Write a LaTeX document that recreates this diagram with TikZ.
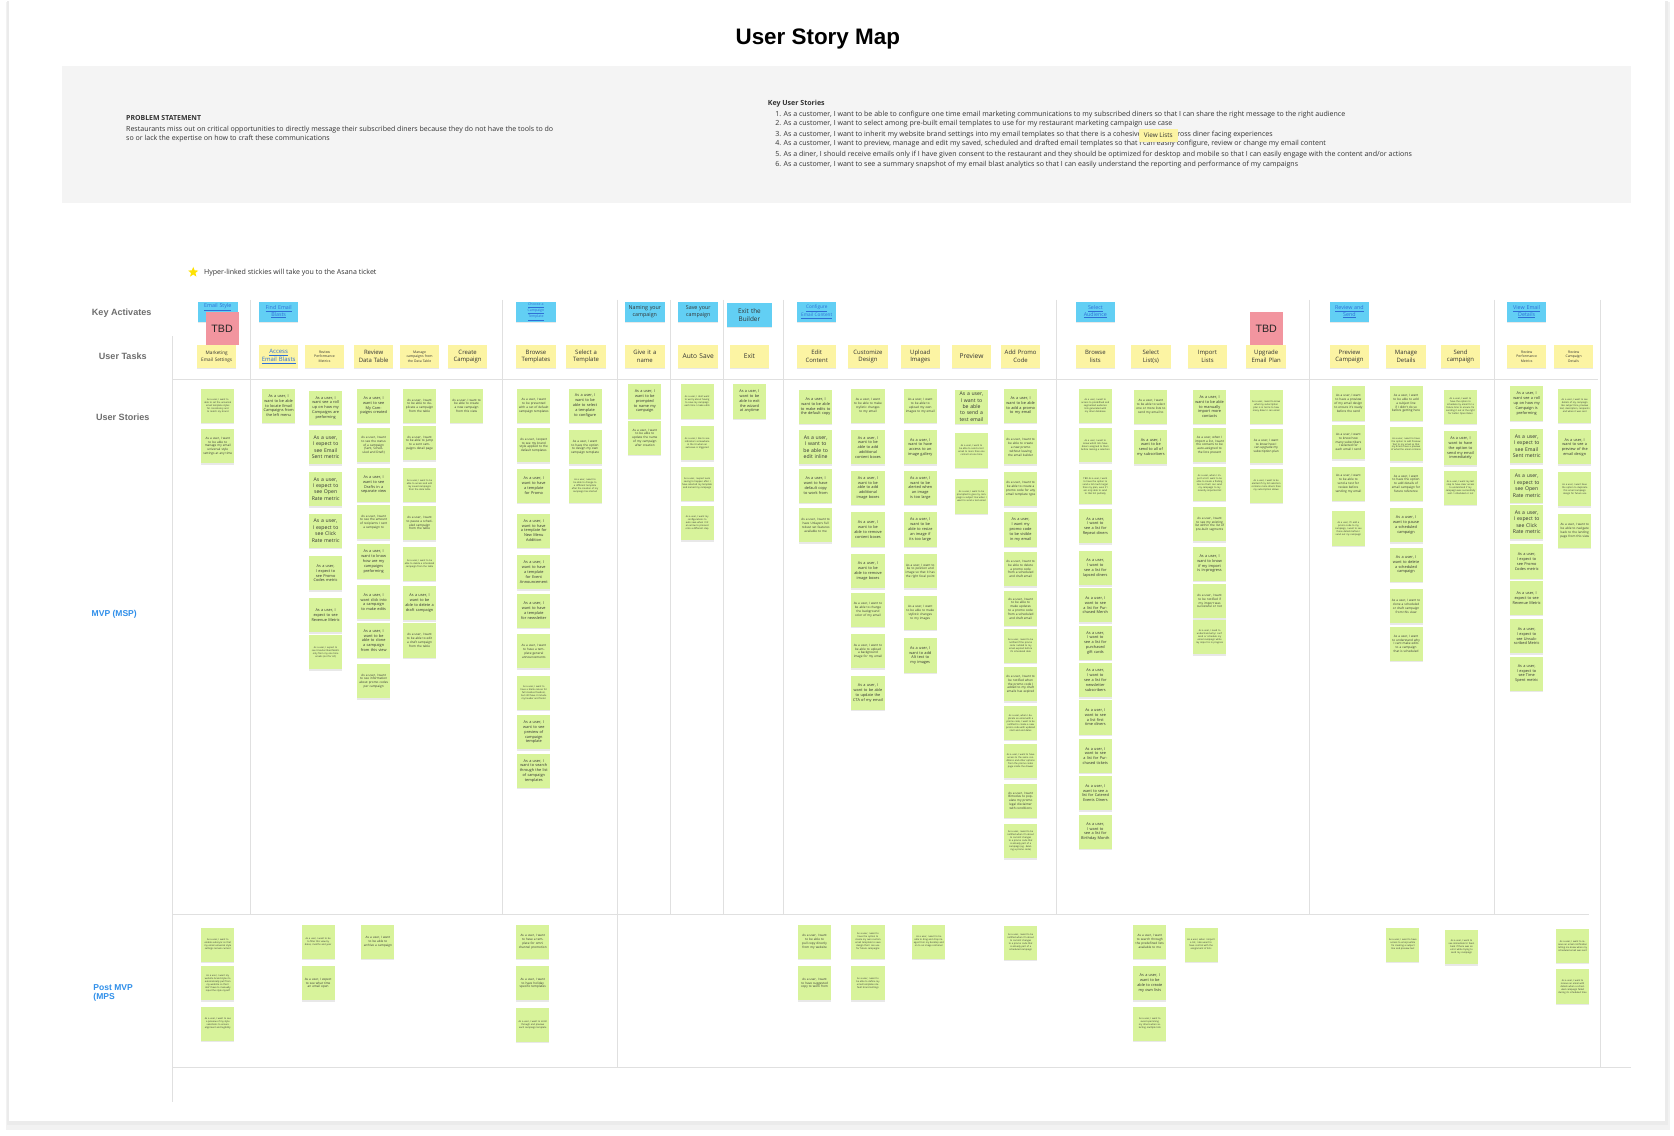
\documentclass[tikz,border=0pt]{standalone}
\usepackage{fontspec}
\setmainfont{Open Sans}
\newfontfamily\headfont{Liberation Sans}
\usetikzlibrary{shapes.geometric,shadows}

\definecolor{stickygreen}{HTML}{D8F39B}
\definecolor{taskyellow}{HTML}{FCF4A3}
\definecolor{actblue}{HTML}{62CFF4}
\definecolor{tbdpink}{HTML}{F2959F}
\definecolor{linkblue}{HTML}{2F6FD6}
\definecolor{labelgray}{HTML}{6E6E6E}
\definecolor{mvpblue}{HTML}{2F8FEA}
\definecolor{gridgray}{HTML}{E0E0E0}
\definecolor{bandgray}{HTML}{F4F4F4}
\definecolor{inkgray}{HTML}{333333}

\tikzset{
  sticky/.style={fill=stickygreen, text=inkgray, minimum width=31pt, minimum height=32pt, text width=28pt, inner sep=1.5pt, align=center, drop shadow={shadow xshift=0pt, shadow yshift=-1.4pt, opacity=0.18}},
  stt/.style={sticky, font=\fontsize{2.2}{2.8}\selectfont},
  st/.style={sticky, font=\fontsize{2.9}{3.6}\selectfont},
  stm/.style={sticky, font=\fontsize{3.6}{4.5}\selectfont},
  stb/.style={sticky, font=\fontsize{4.8}{6}\selectfont},
  task/.style={fill=taskyellow, text=inkgray, minimum width=37pt, minimum height=21pt, text width=35pt, inner sep=1pt, align=center, font=\fontsize{5.6}{7.2}\selectfont, drop shadow={shadow xshift=0pt, shadow yshift=-1.4pt, opacity=0.18}},
  tasks/.style={task, font=\fontsize{3.2}{4.3}\selectfont},
  act/.style={fill=actblue, text=inkgray, minimum width=37pt, minimum height=19pt, text width=35pt, inner sep=1pt, align=center, font=\fontsize{5}{6.4}\selectfont, drop shadow={shadow xshift=0pt, shadow yshift=-1.4pt, opacity=0.18}},
  link/.style={text=linkblue},
  tbd/.style={fill=tbdpink, minimum width=31pt, minimum height=31pt, font=\headfont\fontsize{10}{12}\selectfont, text=black!85},
  rowlabel/.style={font=\headfont\bfseries\fontsize{8.5}{10}\selectfont, text=labelgray},
  grid/.style={draw=gridgray, line width=0.9pt},
  plain/.style={anchor=west, inner sep=0pt, text=inkgray, font=\fontsize{6.6}{7.4}\selectfont},
}

\begin{document}
\begin{tikzpicture}[x=1pt,y=-1pt]
  \useasboundingbox (0,0) rectangle (1568,1064);
  \fill[white] (0,0) rectangle (1568,1064);
  % card and its shadow
  \fill[black!5] (6,2) rectangle (1564,1058);
  \fill[black!8] (7,1) rectangle (1562,1054);
  \fill[white] (8,0) rectangle (1560,1050);

  \node[font=\headfont\bfseries\fontsize{21}{24}\selectfont] (title) at (766,37) {User Story Map};

  % problem band
  \fill[bandgray] (58,62) rectangle (1528,190);
  \node[plain, font=\bfseries\fontsize{6.5}{7.4}\selectfont] (probhead) at (118,111) {PROBLEM STATEMENT};
  \node[plain] (prob1) at (118,121) {Restaurants miss out on critical opportunities to directly message their subscribed diners because they do not have the tools to do};
  \node[plain] (prob2) at (118,130) {so or lack the expertise on how to craft these communications};
  \node[plain, font=\bfseries\fontsize{6.6}{7.4}\selectfont] (keyhead) at (719,97) {Key User Stories};
  \node[plain] (key1) at (726,107) {1. As a customer, I want to be able to configure one time email marketing communications to my subscribed diners so that I can share the right message to the right audience};
  \node[plain] (key2) at (726,116) {2. As a customer, I want to select among pre-built email templates to use for my restaurant marketing campaign use case};
  \node[plain] (key3) at (726,126) {3. As a customer, I want to inherit my website brand settings into my email templates so that there is a cohesive identity across diner facing experiences};
  \node[plain] (key4) at (726,135) {4. As a customer, I want to preview, manage and edit my saved, scheduled and drafted email templates so that I can easily configure, review or change my email content};
  \node[plain] (key5) at (726,145) {5. As a diner, I should receive emails only if I have given consent to the restaurant and they should be optimized for desktop and mobile so that I can easily engage with the content and/or actions};
  \node[plain] (key6) at (726,154) {6. As a customer, I want to see a summary snapshot of my email blast analytics so that I can easily understand the reporting and performance of my campaigns};
  \node[fill=taskyellow, minimum width=36pt, minimum height=12pt, inner sep=0pt, text=inkgray, font=\fontsize{6}{7}\selectfont, drop shadow={shadow xshift=0pt, shadow yshift=-1pt, opacity=0.15}] (viewlists) at (1085,127) {View Lists};

  % legend
  \node[star, star points=5, star point ratio=2.3, fill=yellow!85!orange, minimum size=10pt, inner sep=0pt] (star) at (181,255) {};
  \node[plain, font=\fontsize{6.6}{7.4}\selectfont] (legend) at (191,255) {Hyper-linked stickies will take you to the Asana ticket};

  % grid
  \draw[grid] (162,315) -- (162,1032);
  \draw[grid] (162,355) -- (1497,355);
  \draw[grid] (162,857) -- (1488,857);
  \draw[grid] (162,1000) -- (1528,1000);
  \draw[grid] (235,281) -- (235,857);
  \draw[grid] (471,281) -- (471,857);
  \draw[grid] (578,281) -- (578,1000);
  \draw[grid] (628,281) -- (628,857);
  \draw[grid] (678,281) -- (678,857);
  \draw[grid] (734,281) -- (734,857);
  \draw[grid] (990,281) -- (990,857);
  \draw[grid] (1227,281) -- (1227,857);
  \draw[grid] (1400,281) -- (1400,857);
  \draw[grid] (1499,281) -- (1499,1000);

  % row labels
  \node[rowlabel] (lblact) at (114,293) {Key Activates};
  \node[rowlabel] (lbltask) at (115,334) {User Tasks};
  \node[rowlabel] (lblstory) at (115,391) {User Stories};
  \node[rowlabel, text=mvpblue, font=\headfont\bfseries\fontsize{8}{10}\selectfont] (lblmvp) at (107,575) {MVP (MSP)};
  \node[rowlabel, text=mvpblue, font=\headfont\bfseries\fontsize{8}{8.6}\selectfont, align=left, anchor=west] (lblpost) at (84,930) {Post MVP\\(MPS};

  % key activities
  \node[act, link] (actstyle) at (204,292) {\underline{Email Style}\\[4pt]\phantom{X}};
  \node[act, link] (actfind) at (261,292) {\underline{Find Email}\\\underline{Blasts}};
  \node[act, link, font=\fontsize{3.3}{4.3}\selectfont] (actchoose) at (502,292) {\underline{Choose a}\\\underline{Campaign}\\\underline{Template}};
  \node[act] (actname) at (604,292) {Naming your\\campaign};
  \node[act] (actsave) at (654,292) {Save your\\campaign};
  \node[act, minimum width=42pt, minimum height=22pt, font=\fontsize{6}{7.6}\selectfont] (actexit) at (702,295) {Exit the\\Builder};
  \node[act, link, font=\fontsize{4.4}{5.8}\selectfont] (actconfig) at (765,292) {\underline{Configure}\\\underline{Email Content}};
  \node[act, link] (actaudience) at (1026,292) {\underline{Select}\\\underline{Audience}};
  \node[act, link] (actreview) at (1264,292) {\underline{Review and}\\\underline{Send}};
  \node[act, link] (actdetails) at (1430,292) {\underline{View Email}\\\underline{Details}};

  % user tasks
  \node[task, font=\fontsize{4.4}{6}\selectfont] (tsettings) at (203,334) {Marketing\\Email Settings};
  \node[task, link] (taccess) at (261,334) {\underline{Access}\\\underline{Email Blasts}};
  \node[tasks] (tperf) at (304,334) {Review\\Performance\\Metrics};
  \node[task] (ttable) at (350,334) {Review\\Data Table};
  \node[tasks] (tmanage) at (393,334) {Manage\\campaigns from\\the Data Table};
  \node[task] (tcreate) at (438,334) {Create\\Campaign};
  \node[task] (tbrowse) at (502,334) {Browse\\Templates};
  \node[task] (tselect) at (549,334) {Select a\\Template};
  \node[task] (tname) at (604,334) {Give it a\\name};
  \node[task, font=\fontsize{6.2}{7.2}\selectfont] (tsave) at (654,334) {Auto Save};
  \node[task, font=\fontsize{6.2}{7.2}\selectfont] (texit) at (702,334) {Exit};
  \node[task] (tedit) at (765,334) {Edit\\Content};
  \node[task] (tdesign) at (813,334) {Customize\\Design};
  \node[task] (tupload) at (862,334) {Upload\\Images};
  \node[task, font=\fontsize{6.2}{7.2}\selectfont] (tpreview) at (910,334) {Preview};
  \node[task] (tpromo) at (956,334) {Add Promo\\Code};
  \node[task] (tlists) at (1026,334) {Browse\\lists};
  \node[task] (tselectl) at (1078,334) {Select\\List(s)};
  \node[task] (timport) at (1131,334) {Import\\Lists};
  \node[task] (tupgrade) at (1186,334) {Upgrade\\Email Plan};
  \node[task] (tprevcamp) at (1264,334) {Preview\\Campaign};
  \node[task] (tdetails) at (1317,334) {Manage\\Details};
  \node[task] (tsend) at (1368,334) {Send\\campaign};
  \node[tasks] (tperf2) at (1430,334) {Review\\Performance\\Metrics};
  \node[tasks] (tcampdet) at (1474,334) {Review\\Campaign\\Details};

  \node[tbd] (tbdleft) at (208,308) {TBD};
  \node[tbd] (tbdright) at (1186,308) {TBD};

  % stories: Marketing Email Settings
  \node[stt] (a1) at (204,380) {As a user, I want to able to set the universal email template styles for consistency and to match my brand};
  \node[st] (a2) at (204,418) {As a user, I want to be able to manage my email universal style settings at any time};
  % Access Email Blasts
  \node[stm] (b1) at (261,380) {As a user, I want to be able to locate Email Campaigns from the left menu};
  % Review Performance Metrics
  \node[stm] (c1) at (305,382) {As a user, I want see a roll up on how my Campaigns are preforming};
  \node[stb] (c2) at (305,419) {As a user, I expect to see Email Sent metric};
  \node[stb] (c3) at (305,458) {As a user, I expect to see Open Rate metric};
  \node[stb] (c4) at (305,497) {As a user, I expect to see Click Rate metric};
  \node[stm] (c5) at (305,537) {As a user, I expect to see Promo Codes metric};
  \node[stm] (c6) at (305,576) {As a user, I expect to see Revenue Metric};
  \node[stt] (c7) at (305,611) {As a user, I expect to see Unsubscribed Metric only from my one time emails (not for AC)};
  % Review Data Table
  \node[stm] (d1) at (350,380) {As a user, I want to see My Campaigns created};
  \node[st] (d2) at (350,417) {As a user, I want to see the status of a campaign (Sent, Scheduled and Draft)};
  \node[stm] (d3) at (350,454) {As a user, I want to see Drafts in a separate view};
  \node[st] (d4) at (350,489) {As a user, I want to see the amount of recipients I sent a campaign to};
  \node[stm] (d5) at (350,526) {As a user, I want to know how are my campaigns preforming};
  \node[stm] (d6) at (350,564) {As a user, I want click into a campaign to make edits};
  \node[stm] (d7) at (350,600) {As a user, I want to be able to clone a campaign from this view};
  \node[st] (d8) at (350,638) {As a user, I want to see information about promo codes per campaign};
  % Manage campaigns
  \node[st] (e1) at (393,380) {As a user, I want to be able to duplicate a campaign from the table};
  \node[st] (e2) at (393,415) {As a user, I want to be able to jump to a sent campaigns detail page};
  \node[stt] (e3) at (393,454) {As a user, I want to be able to access and edit my saved campaigns from the data table};
  \node[st] (e4) at (393,490) {As a user, I want to pause a scheduled campaign from the table};
  \node[stt] (e5) at (393,528) {As a user, I want to be able to delete a scheduled campaign from the table};
  \node[stm] (e6) at (393,565) {As a user, I want to be able to delete a draft campaign};
  \node[st] (e7) at (393,600) {As a user, I want to be able to edit a draft campaign from the table};
  % Create Campaign
  \node[st] (f1) at (437,380) {As a user, I want to be able to create a new campaign from this view};
  % Browse Templates
  \node[st] (g1) at (500,380) {As a user, I want to be presented with a set of default campaign templates};
  \node[st] (g2) at (500,417) {As a user, I expect to see my brand style applied to the default templates};
  \node[stm] (g3) at (500,455) {As a user, I want to have a template for Promo};
  \node[stm] (g4) at (500,497) {As a user, I want to have a template for New Menu Addition};
  \node[stm] (g5) at (500,536) {As a user, I want to have a template for Event Announcement};
  \node[stm] (g6) at (500,572) {As a user, I want to have a template for newsletter};
  \node[st] (g7) at (500,610) {As a user, I want to have a template general announcements};
  \node[stt] (g8) at (500,649) {As a user, I want to have a blank canvas for full creative freedom, but still have it include my header and footer};
  \node[stm] (g9) at (500,686) {As a user, I want to see preview of campaign template};
  \node[stm] (g10) at (500,722) {As a user, I want to search through the list of campaign templates};
  % Select a Template
  \node[stm] (h1) at (548,380) {As a user, I want to be able to select a template to configure};
  \node[st] (h2) at (548,419) {As a user, I want to have the option to design my own campaign template};
  \node[stt] (h3) at (548,455) {As a user, I want to be able to change to a different template after the creation of my campaign has started};
  % Give it a name
  \node[stm] (i1) at (604,376) {As a user, I want to be prompted to name my campaign};
  \node[st] (i2) at (604,410) {As a user, I want to be able to update the name of my campaign after creation};
  % Auto Save
  \node[stt] (j1) at (653,376) {As a user, I dont want to worry about having to save my campaign each time I make edits};
  \node[stt] (j2) at (653,415) {As a user, I like to see indicators somewhere in the UI when an autosave is triggered};
  \node[stt] (j3) at (653,453) {As a user, I expect auto saving to happen after I have selected my template and named my campaign};
  \node[stt] (j4) at (653,490) {As a user, I want my configurations to auto save when I hit an arrow to proceed onto a different step};
  % Exit
  \node[stm] (k1) at (702,376) {As a user, I want to be able to exit the wizard at anytime};
  % Edit Content
  \node[stm] (l1) at (764,381) {As a user, I want to be able to make edits to the default copy};
  \node[stb] (l2) at (764,419) {As a user, I want to be able to edit inline};
  \node[stm] (l3) at (764,455) {As a user, I want to have default copy to work from};
  \node[st] (l4) at (764,492) {As a user, I want to have Unlayers full robust set features available to me};
  % Customize Design
  \node[st] (m1) at (813,380) {As a user, I want to be able to make stylistic changes to my email};
  \node[stm] (m2) at (813,419) {As a user, I want to be able to add additional content boxes};
  \node[stm] (m3) at (813,457) {As a user, I want to be able to add additional image boxes};
  \node[stm] (m4) at (813,496) {As a user, I want to be able to remove content boxes};
  \node[stm] (m5) at (813,535) {As a user, I want to be able to remove image boxes};
  \node[st] (m6) at (813,571) {As a user, I want to be able to change the background color of my email};
  \node[st] (m7) at (813,610) {As a user, I want to be able to upload a background image for my email};
  \node[stm] (m8) at (813,649) {As a user, I want to be able to update the CTA of my email};
  % Upload Images
  \node[st] (n1) at (862,380) {As a user, I want to be able to upload my own images to my email};
  \node[stm] (n2) at (862,419) {As a user, I want to have access to an image gallery};
  \node[stm] (n3) at (862,457) {As a user, I want to be alerted when an image is too large};
  \node[stm] (n4) at (862,496) {As a user, I want to be able to resize an image if its too large};
  \node[st] (n5) at (862,535) {As a user, I want to be to position and image so that it has the right focal point};
  \node[st] (n6) at (862,574) {As a user, I want to be able to make stylistic changes to my images};
  \node[stm] (n7) at (862,614) {As a user, I want to add Alt text to my images};
  % Preview
  \node[stb] (o1) at (910,381) {As a user, I want to be able to send a test email};
  \node[stt] (o2) at (910,422) {As a user, I want to be able to send a test email to more than one contact at one time};
  \node[stt] (o3) at (910,465) {As a user, I want to be prompted to give my campaign a subject line when I want to send a test email};
  % Add Promo Code
  \node[stm] (p1) at (956,380) {As a user, I want to be able to add a promo to my email};
  \node[st] (p2) at (956,419) {As a user, I want to be able to create a new promo without leaving the email builder};
  \node[st] (p3) at (956,458) {As a user, I want to be able to create a promo code for any email template type};
  \node[stm] (p4) at (956,496) {As a user, I want my promo code to be visible in my email};
  \node[st] (p5) at (956,533) {As a user, I want to be able to delete a promo code from a scheduled and draft email};
  \node[st] (p6) at (956,570) {As a user, I want to be able to make updates to a promo code from a scheduled and draft email};
  \node[stt] (p7) at (956,605) {As a user, I want to be notified if the promo code I added to my email expired before it's scheduled date};
  \node[st] (p8) at (956,641) {As a user, I want to be notified when the promo code I added to my draft emails has expired};
  \node[stt] (p9) at (956,677) {As a user, when I duplicate an email with a promo code, I want to be notified to create a new promo code with updated start and end dates};
  \node[stt] (p10) at (956,713) {As a user, I want to have access to the same conditions and other options from the promo codes page inside the drawer};
  \node[st] (p11) at (956,750) {As a user, I want Bimodus to populate my promo legal disclaimer with conditions};
  \node[stt] (p12) at (956,788) {As a user, I want to be notified when I'm about to commit changes to a promo code that is already part of a campaign (eg. deleting a promo code)};
  % Browse lists
  \node[stt] (q1) at (1026,380) {As a user, I want to access to predefined and segmented audience lists generated with my diner database};
  \node[stt] (q2) at (1026,417) {As a user, I want to know which lists have diners assigned to them before making a selection};
  \node[stt] (q3) at (1026,456) {TBD As a user, I want to have the option to send a list much larger than my plan, even if I am only able to send to that list partially};
  \node[stm] (q4) at (1026,493) {As a user, I want to see a list for Repeat diners};
  \node[stm] (q5) at (1026,532) {As a user, I want to see a list for lapsed diners};
  \node[stm] (q6) at (1026,567) {As a user, I want to see a list for Purchased Merch};
  \node[stm] (q7) at (1026,602) {As a user, I want to see a list for purchased gift cards};
  \node[stm] (q8) at (1026,637) {As a user, I want to see a list for newsletter subscribers};
  \node[stm] (q9) at (1026,672) {As a user, I want to see a list first time diners};
  \node[stm] (q10) at (1026,708) {As a user, I want to see a list for Purchased tickets};
  \node[stm] (q11) at (1026,743) {As a user, I want to see a list for Catered Events Diners};
  \node[stm] (q12) at (1026,779) {As a user, I want to see a list for Birthday Month};
  % Select List(s)
  \node[st] (r1) at (1078,381) {As a user, I want to be able to select one or more lists to send my email to};
  \node[stm] (r2) at (1078,419) {As a user, I want to be send to all of my subscribers};
  % Import Lists
  \node[stm] (s1) at (1133,381) {As a user, I want to be able to manually import more contacts};
  \node[st] (s2) at (1133,417) {As a user, when I import a list, I want the contacts to be auto-assigned to the lists present};
  \node[stt] (s3) at (1133,453) {As a user, when I import a list I want to be able to create a finding tool so that I can send my campaign to my recently imported list};
  \node[st] (s4) at (1133,491) {As a user, I want to see my existing list within the list of pre-built segments};
  \node[stm] (s5) at (1133,528) {As a user, I want to know if my import is in-progress};
  \node[st] (s6) at (1133,563) {As a user, I want to be notified if my import was successful or not};
  \node[stt] (s7) at (1133,597) {As a user, I need to understand why I can't send or schedule my email campaign while my import is in progress};
  % Upgrade Email Plan
  \node[stt] (t1) at (1186,381) {As a user, I want to know what my subscription plan is in terms to how many diners I can email};
  \node[st] (t2) at (1186,418) {As a user, I want to know how I can upgrade my subscription plan};
  \node[stt] (t3) at (1186,455) {As a user, I want to be alerted if my list selection contains more diners than my subscription allows};
  % Preview Campaign
  \node[st] (u1) at (1263,378) {As a user, I want to have a preview of my email design to ensure it's ready before the send};
  \node[st] (u2) at (1263,414) {As a user, I want to know how many subscribers I selected for each email I send};
  \node[st] (u3) at (1263,453) {As a user, I want to be able to send a test for review before sending my email};
  \node[stt] (u4) at (1263,495) {As a user, If I add a promo code to my campaign, I want to see those details before I send out my campaign};
  % Manage Details
  \node[st] (v1) at (1317,378) {As a user, I want to be able to add a subject line if I didn't do so before getting here};
  \node[stt] (v2) at (1317,416) {As a user, I want to have the option to add Preview Text to my email so that my diners have a preview of what the email contains};
  \node[st] (v3) at (1317,453) {As a user, I want to have the option to add details of email campaign for future reference};
  \node[stm] (v4) at (1317,492) {As a user, I want to pause a scheduled campaign};
  \node[stm] (v5) at (1317,529) {As a user, I want to delete a scheduled campaign};
  \node[st] (v6) at (1317,568) {As a user, I want to clone a scheduled or draft campaign from this view};
  \node[st] (v7) at (1317,603) {As a user, I want to understand why I cant make edits to a campaign that is scheduled};
  % Send campaign
  \node[stt] (w1) at (1368,381) {As a user, I want to have the option to schedule my email for a future time to ensure I'm sending it out at the right for better Open Rates};
  \node[stm] (w2) at (1368,420) {As a user, I want to have the option to send my email immediately};
  \node[stt] (w3) at (1368,457) {As a user, I want my last step to have clear access to understand if my campaign was successfully sent / scheduled or not};
  % Review Performance Metrics (details)
  \node[stm] (x1) at (1430,378) {As a user, I want see a roll up on how my Campaign is preforming};
  \node[stb] (x2) at (1430,418) {As a user, I expect to see Email Sent metric};
  \node[stb] (x3) at (1430,455) {As a user, I expect to see Open Rate metric};
  \node[stb] (x4) at (1430,489) {As a user, I expect to see Click Rate metric};
  \node[stm] (x5) at (1430,526) {As a user, I expect to see Promo Codes metric};
  \node[stm] (x6) at (1430,560) {As a user, I expect to see Revenue Metric};
  \node[stm] (x7) at (1430,596) {As a user, I expect to see Unsubscribed Metric};
  \node[stm] (x8) at (1430,631) {As a user, I expect to see Time Spent metric};
  % Review Campaign Details
  \node[stt] (y1) at (1475,380) {As a user, I want to see details of my campaign like subject line, preview text, description, recipients and when it was sent};
  \node[stm] (y2) at (1475,419) {As a user, I want to see a preview of the email design};
  \node[stt] (y3) at (1475,458) {As a user, I want have the option to duplicate this email campaign design for future use};
  \node[st] (y4) at (1475,497) {As a user, I want to be able to navigate back to the landing page from this view};

  % post MVP
  \node[stt] (pa1) at (204,885) {As a user, I want to enable autosync so that my email universal style settings remain current};
  \node[stt] (pa2) at (204,921) {As a user, I want my website brand styles to automatically pull from my website so that I don't have to manually input the style myself};
  \node[stt] (pa3) at (204,959) {As a user, I want to see a preview of my style selections to ensure alignment and legibility};
  \node[stt] (pc1) at (298,882) {As a user, I want to be to filter this view by dates, months and year};
  \node[st] (pc2) at (298,921) {As a user, I expect to see what time an email open};
  \node[st] (pd1) at (354,882) {As a user, I want to be able to archive a campaign};
  \node[st] (pg1) at (499,882) {As a user, I want to have a template for omni channel promotion};
  \node[st] (pg2) at (499,921) {As a user, I want to have holiday specific templates};
  \node[stt] (pg3) at (499,960) {As a user, I want to scroll through and preview each campaign template};
  \node[st] (pl1) at (763,882) {As a user, I want to be able to pull copy directly from my website};
  \node[st] (pl2) at (763,921) {As a user, I want to have suggested copy to work from};
  \node[stt] (pm1) at (813,882) {As a user, I want to have the option to create my own custom email template to save design that I can use for future campaigns};
  \node[stt] (pm2) at (813,921) {As a user, I want to be able to define my email templates default brand settings};
  \node[stt] (pn1) at (870,882) {As a user, I want to be able to drag and drop images from my desktop and on to an image container};
  \node[stt] (pp1) at (956,883) {As a user, I want to be notified when I'm about to commit changes to a promo code that is already part of a scheduled campaign};
  \node[st] (pr1) at (1077,882) {As a user, I want to search through the predefined lists available to me};
  \node[stm] (pr2) at (1077,921) {As a user, I want to be able to create my own lists};
  \node[stt] (pr3) at (1077,959) {As a user, I want to avoid spamming my diners when selecting multiple lists};
  \node[stt] (ps1) at (1125,885) {As a user, when I import a list, I also want to have control with the assignment of lists};
  \node[stt] (pv1) at (1314,885) {As a user, I want to have access to emojis while I'm creating a subject line and preview text};
  \node[stt] (pw1) at (1369,887) {As a user, I want to see immediate UI feedback if there was an error while trying to send my campaign};
  \node[stt] (py1) at (1473,886) {As a user, I want to receive an email notification letting me know when my scheduled email was sent};
  \node[stt] (py2) at (1473,924) {As a user, I want to receive an email with details when a scheduled campaign failed during its scheduled time};
\end{tikzpicture}
\end{document}
